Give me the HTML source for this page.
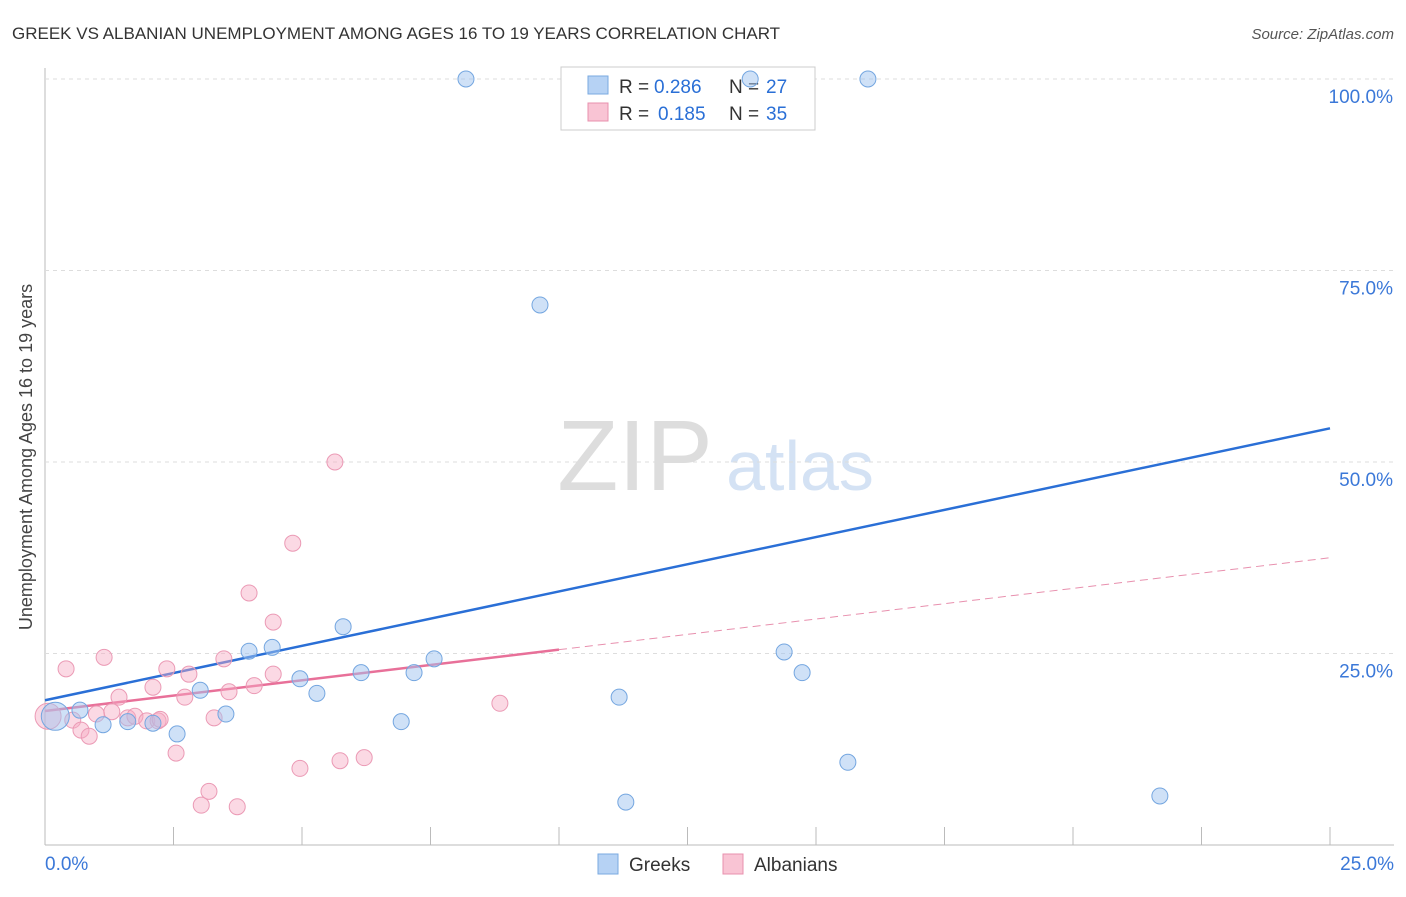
<!DOCTYPE html>
<html><head><meta charset="utf-8"><style>
body{margin:0;background:#fff;font-family:"Liberation Sans",sans-serif;}
svg text{font-family:"Liberation Sans",sans-serif;}
</style></head><body>
<svg id="chart" width="1406" height="892" xmlns="http://www.w3.org/2000/svg">
<text x="12" y="39" font-size="17" fill="#333">GREEK VS ALBANIAN UNEMPLOYMENT AMONG AGES 16 TO 19 YEARS CORRELATION CHART</text>
<text x="1394" y="39" font-size="15" fill="#555" text-anchor="end" font-style="italic">Source: ZipAtlas.com</text>
<text x="32" y="457" font-size="18" fill="#444" text-anchor="middle" transform="rotate(-90 32 457)">Unemployment Among Ages 16 to 19 years</text>
<text x="635" y="490" font-size="100" fill="#ddd" font-family="Liberation Serif" text-anchor="middle">ZIP</text>
<text x="800" y="490" font-size="70" fill="#d4e2f4" text-anchor="middle">atlas</text>
<g id="grid"></g><g id="lines"></g>
<g>
<rect x="561" y="67" width="254" height="63" fill="#fff" stroke="#ccc"/>
<rect x="588" y="76" width="20" height="18" fill="#b6d2f4" stroke="#7aaae0"/>
<text x="619" y="93" font-size="19" fill="#333">R =</text>
<text x="654" y="93" font-size="19" fill="#2a6fd6">0.286</text>
<text x="729" y="93" font-size="19" fill="#333">N =</text>
<text x="766" y="93" font-size="19" fill="#2a6fd6">27</text>
<rect x="588" y="103" width="20" height="18" fill="#f9c4d4" stroke="#e890ae"/>
<text x="619" y="120" font-size="19" fill="#333">R =</text>
<text x="658" y="120" font-size="19" fill="#2a6fd6">0.185</text>
<text x="729" y="120" font-size="19" fill="#333">N =</text>
<text x="766" y="120" font-size="19" fill="#2a6fd6">35</text>
</g>
<g id="pts"></g>
<g>
<rect x="598" y="854" width="20" height="20" fill="#b6d2f4" stroke="#7aaae0"/>
<text x="629" y="871" font-size="19" fill="#333">Greeks</text>
<rect x="723" y="854" width="20" height="20" fill="#f9c4d4" stroke="#e890ae"/>
<text x="754" y="871" font-size="19" fill="#333">Albanians</text>
</g>
</svg>
<script>
const yTicks=[25,50,75,100];
const xTickLabels=["0.0%","25.0%"];
const greekX=[8.19,13.72,16.01,9.63,0.2,0.68,1.13,1.61,2.1,2.57,3.02,3.52,3.97,4.42,4.96,5.29,5.8,6.15,6.93,7.18,7.57,11.17,11.3,14.38,14.73,15.62,21.69];
const greekY=[100,100,100,70.5,16.8,17.6,15.7,16.1,15.9,14.5,20.2,17.1,25.3,25.8,21.7,19.8,28.5,22.5,16.1,22.5,24.3,19.3,5.6,25.2,22.5,10.8,6.4];
const albX=[0.06,0.41,0.54,0.7,0.86,1.0,1.15,1.3,1.44,1.61,1.75,1.98,2.1,2.2,2.24,2.37,2.55,2.72,2.8,3.04,3.19,3.29,3.48,3.58,3.74,3.97,4.07,4.44,4.44,4.82,4.96,5.64,5.74,6.21,8.85];
const albY=[16.8,23,16.3,15,14.2,17.1,24.5,17.4,19.3,16.6,16.8,16.2,20.6,16.2,16.4,23,12,19.3,22.3,5.2,7,16.6,24.3,20,5,32.9,20.8,29.1,22.3,39.4,10,50,11,11.4,18.5];
const greekLine=[18.9,54.4];
const albLine=[17.5,37.5];
const albSolidEnd=10;
const X=v=>45+v/25*1285, Y=v=>845-v/100*766;
const NS="http://www.w3.org/2000/svg";
function mk(t,a,p){const e=document.createElementNS(NS,t);for(const k in a)e.setAttribute(k,a[k]);p.appendChild(e);return e;}
const g=document.getElementById('grid');
let ax=mk('line',{x1:45,y1:68,x2:45,y2:845,stroke:'#bbb'},g);


let bx=mk('line',{x1:45,y1:845,x2:1394,y2:845,stroke:'#bbb'},g);


yTicks.forEach(t=>{
 let l=mk('line',{x1:45,x2:1394,y1:Y(t),y2:Y(t),stroke:'#ddd','stroke-dasharray':'4,4'},g);
 
 
 let tx=mk('text',{x:1393,y:Y(t)+24,'font-size':19,fill:'#3b78d8','text-anchor':'end'},g);
 tx.textContent=t.toFixed(1)+'%';
 
 
});
for(let i=1;i<=10;i++){let l=mk('line',{x1:X(i*2.5),x2:X(i*2.5),y1:827,y2:845,stroke:'#bbb'},g);
 
 }
xTickLabels.forEach((s,i)=>{let tx=mk('text',{x:i?1394:45,y:870,'font-size':19,fill:'#3b78d8','text-anchor':i?'end':'start'},g);tx.textContent=s;
 
 });
const L=document.getElementById('lines');
let bl=mk('line',{x1:X(0),y1:Y(greekLine[0]),x2:X(25),y2:Y(greekLine[1]),stroke:'#2a6fd6','stroke-width':2.5},L);


const ay=v=>albLine[0]+(albLine[1]-albLine[0])*v/25;
let pl=mk('line',{x1:X(0),y1:Y(ay(0)),x2:X(albSolidEnd),y2:Y(ay(albSolidEnd)),stroke:'#e87099','stroke-width':2.5},L);


let pd=mk('line',{x1:X(albSolidEnd),y1:Y(ay(albSolidEnd)),x2:X(25),y2:Y(ay(25)),stroke:'#e890ae','stroke-width':1,'stroke-dasharray':'8,5'},L);


const P=document.getElementById('pts');
albX.forEach((x,i)=>{let c=mk('circle',{cx:X(x),cy:Y(albY[i]),r:i==0?13:8,fill:'rgba(246,170,195,0.45)',stroke:'#eb9ab5','stroke-width':1},P);
 
 });
greekX.forEach((x,i)=>{let c=mk('circle',{cx:X(x),cy:Y(greekY[i]),r:i==4?14:8,fill:'rgba(160,196,240,0.5)',stroke:'#74a6e0','stroke-width':1},P);
 
 });
</script>
</body></html>
